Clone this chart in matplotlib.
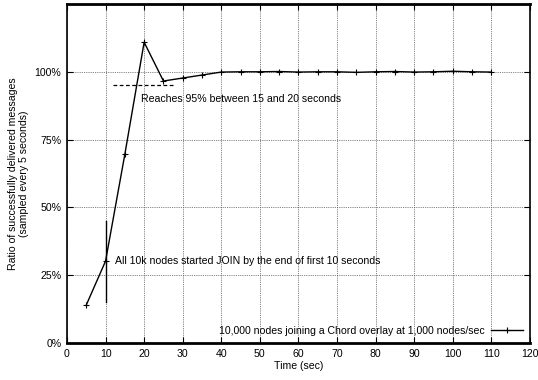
import numpy as np
import matplotlib
matplotlib.use("Agg")
import matplotlib.pyplot as plt
from matplotlib.ticker import FuncFormatter

# sampled every 5 seconds
times = [5, 10, 15, 20, 25, 30, 35, 40, 45, 50, 55, 60, 65, 70, 75, 80, 85, 90, 95, 100, 105, 110]
ratio = [14.0, 30.2, 69.6, 110.9, 96.6, 97.7, 98.8, 99.9, 100.0, 100.0, 100.1, 99.9,
         100.0, 100.0, 99.8, 100.0, 100.1, 99.9, 100.0, 100.2, 100.0, 99.9]

series_label = "10,000 nodes joining a Chord overlay at 1,000 nodes/sec"
note_95 = "Reaches 95% between 15 and 20 seconds"
note_join = "All 10k nodes started JOIN by the end of first 10 seconds"

plt.rcParams["font.family"] = ["Liberation Sans", "DejaVu Sans"]
plt.rcParams["font.size"] = 7.6

fig = plt.figure(figsize=(5.38, 3.8), dpi=100)
ax = fig.add_axes([0.1245, 0.0974, 0.985 - 0.1245, 0.9895 - 0.0974])

ax.plot(times, ratio, "-", color="black", lw=1.0, marker="+", ms=5, mew=0.8,
        label=series_label)

# annotations
ax.plot([12, 28], [95, 95], "--", color="black", lw=0.9, dashes=(3, 2))
ax.text(19.2, 89.8, note_95, va="center", ha="left")
ax.plot([10, 10], [15, 45], "-", color="black", lw=1.0)
ax.text(12.4, 30.2, note_join, va="center", ha="left")

ax.set_xlim(0, 120)
ax.set_ylim(0, 125)
ax.set_xticks(np.arange(0, 121, 10))
ax.set_yticks([0, 25, 50, 75, 100])
ax.yaxis.set_major_formatter(FuncFormatter(lambda v, p: "%d%%" % v))

ax.grid(True, linestyle=(0, (1, 1.2)), color="0.35", lw=0.6)
ax.tick_params(direction="in", top=True, right=True, length=4, width=0.8, pad=4)
for s in ax.spines.values():
    s.set_linewidth(1.2)
ax.spines["bottom"].set_linewidth(2.0)
ax.spines["top"].set_linewidth(2.0)

ax.set_xlabel("Time (sec)", labelpad=2)
ax.set_ylabel("Ratio of successfully delivered messages\n(sampled every 5 seconds)", labelpad=4)

ax.legend(loc="lower right", frameon=False, handlelength=3.0, borderaxespad=0.3,
          handletextpad=0.6, markerfirst=False)

fig.savefig("out.png", dpi=100)
